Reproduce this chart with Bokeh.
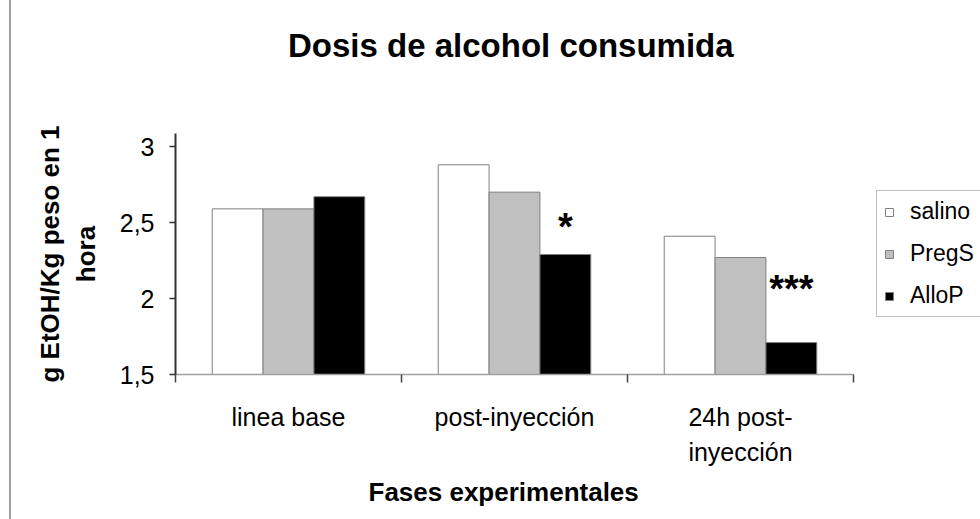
from bokeh.plotting import figure
from bokeh.models import (Range1d, LinearAxis, FixedTicker, Legend, LegendItem, Title, Div,
                          ColumnDataSource, CustomJSTickFormatter)
from bokeh.layouts import column
from bokeh.transform import dodge
from bokeh.core.properties import value
from bokeh.embed import file_html
from bokeh.resources import INLINE

# ---- data ----
title = "Dosis de alcohol consumida"
x_title = "Fases experimentales"
y_title = "g EtOH/Kg peso en 1\nhora"
phases = ["linea base", "post-inyección", "24h post-\ninyección"]
series = ["salino", "PregS", "AlloP"]
salino = [2.59, 2.88, 2.41]
pregs = [2.59, 2.70, 2.27]
allop = [2.67, 2.29, 1.71]
allop_sig = ["", "*", "***"]
y_ticks = [1.5, 2.0, 2.5, 3.0]

# ---- styling ----
FONT = "Liberation Sans"
fills = ["#ffffff", "#c0c0c0", "#000000"]
outline = "#808080"
bar_w = 0.225
offsets = [-bar_w, 0.0, bar_w]
sig_lift_px = [0, 27, 54]

n = len(phases)
centers = [i + 0.5 for i in range(n)]
edges = [float(i) for i in range(n + 1)]

W, H_TOTAL = 969, 519
TITLE_H = 80
H = H_TOTAL - TITLE_H
left_b, top_b, bottom_b = 164, 123 - TITLE_H, 155
axis_px = 678                      # pixel length of the category axis
frame_px = W - left_b              # frame extends to the right edge (legend lives inside it)
x_end = n * frame_px / axis_px

src = ColumnDataSource(dict(xc=centers, salino=salino, PregS=pregs, AlloP=allop,
                            sig=allop_sig, lift=[-v for v in sig_lift_px]))

p = figure(x_range=Range1d(0, x_end), y_range=Range1d(1.5, 3.086),
           width=W, height=H, output_backend="svg", toolbar_location=None,
           x_axis_location=None, y_axis_location="left",
           min_border_left=left_b, min_border_right=0, min_border_top=top_b,
           min_border_bottom=bottom_b)
p.title.visible = False
p.outline_line_color = None
p.xgrid.visible = False
p.ygrid.visible = False
p.background_fill_color = "white"

renderers = []
for name, off, fc in zip(series, offsets, fills):
    r = p.vbar(x=dodge("xc", off), top=name, bottom=1.5, width=bar_w,
               source=src, fill_color=fc, line_color=outline, line_width=1)
    renderers.append(r)

p.text(x=dodge("xc", bar_w), y="AlloP", text="sig", y_offset="lift",
       source=src, text_font=value(FONT), text_font_style="bold", text_font_size="38px",
       text_align="center", text_baseline="alphabetic", text_color="black")

# y axis
ya = p.yaxis[0]
ya.ticker = FixedTicker(ticks=y_ticks)
ya.formatter = CustomJSTickFormatter(code="return tick.toString().replace('.', ',');")
ya.axis_line_color = "#333333"
ya.axis_line_width = 2
ya.major_tick_out = 6
ya.major_tick_in = 0
ya.major_tick_line_color = "#333333"
ya.major_tick_line_width = 1.5
ya.minor_tick_line_color = None
ya.major_label_text_font = FONT
ya.major_label_text_font_size = "25px"
ya.major_label_text_color = "black"
ya.major_label_standoff = 15
ya.axis_label = y_title
ya.axis_label_text_font = FONT
ya.axis_label_text_font_size = "26px"
ya.axis_label_text_font_style = "bold"
ya.axis_label_text_color = "black"
ya.axis_label_standoff = 16

# x axis: labels at category centres, short ticks between categories
xa = LinearAxis(ticker=FixedTicker(ticks=centers, minor_ticks=edges), bounds=(0, n),
                major_label_overrides={c: lab for c, lab in zip(centers, phases)},
                axis_line_color="#a0a0a0", axis_line_width=1.5,
                major_tick_line_color=None, major_tick_in=0, major_tick_out=0,
                minor_tick_line_color="#444444", minor_tick_line_width=1.5,
                minor_tick_in=0, minor_tick_out=8,
                major_label_text_font=FONT, major_label_text_font_size="25px",
                major_label_text_color="black", major_label_standoff=20,
                major_label_text_line_height=1.25)
p.add_layout(xa, "below")

# x axis title, centred under the category axis
x_label = Title(text=x_title, text_font=FONT, text_font_size="26px", text_font_style="bold",
                text_color="black", align="left", offset=193, vertical_align="top",
                standoff=16)
p.add_layout(x_label, "below")

legend = Legend(items=[LegendItem(label=s, renderers=[r]) for s, r in zip(series, renderers)],
                location=(701, 57), label_text_font=FONT, label_text_font_size="23px",
                label_text_color="black", glyph_width=10, glyph_height=10, spacing=15,
                padding=7, margin=0, label_standoff=16, border_line_color="#808080",
                border_line_width=1, background_fill_color="white", background_fill_alpha=1)
p.add_layout(legend)

# chart title as a header block above the figure
title_div = Div(
    text=('<div style="margin-top:21px; margin-left:272px; white-space:nowrap; '
          'font-family:\'Liberation Sans\'; font-weight:bold; font-size:33px; '
          'line-height:40px; color:black;">' + title + '</div>'),
    width=W, height=TITLE_H)

layout = column(title_div, p, spacing=0,
                styles={"border-left": "2px solid #a0a0a0", "margin-left": "9px"})

open("out.html", "w").write(file_html(layout, INLINE))
